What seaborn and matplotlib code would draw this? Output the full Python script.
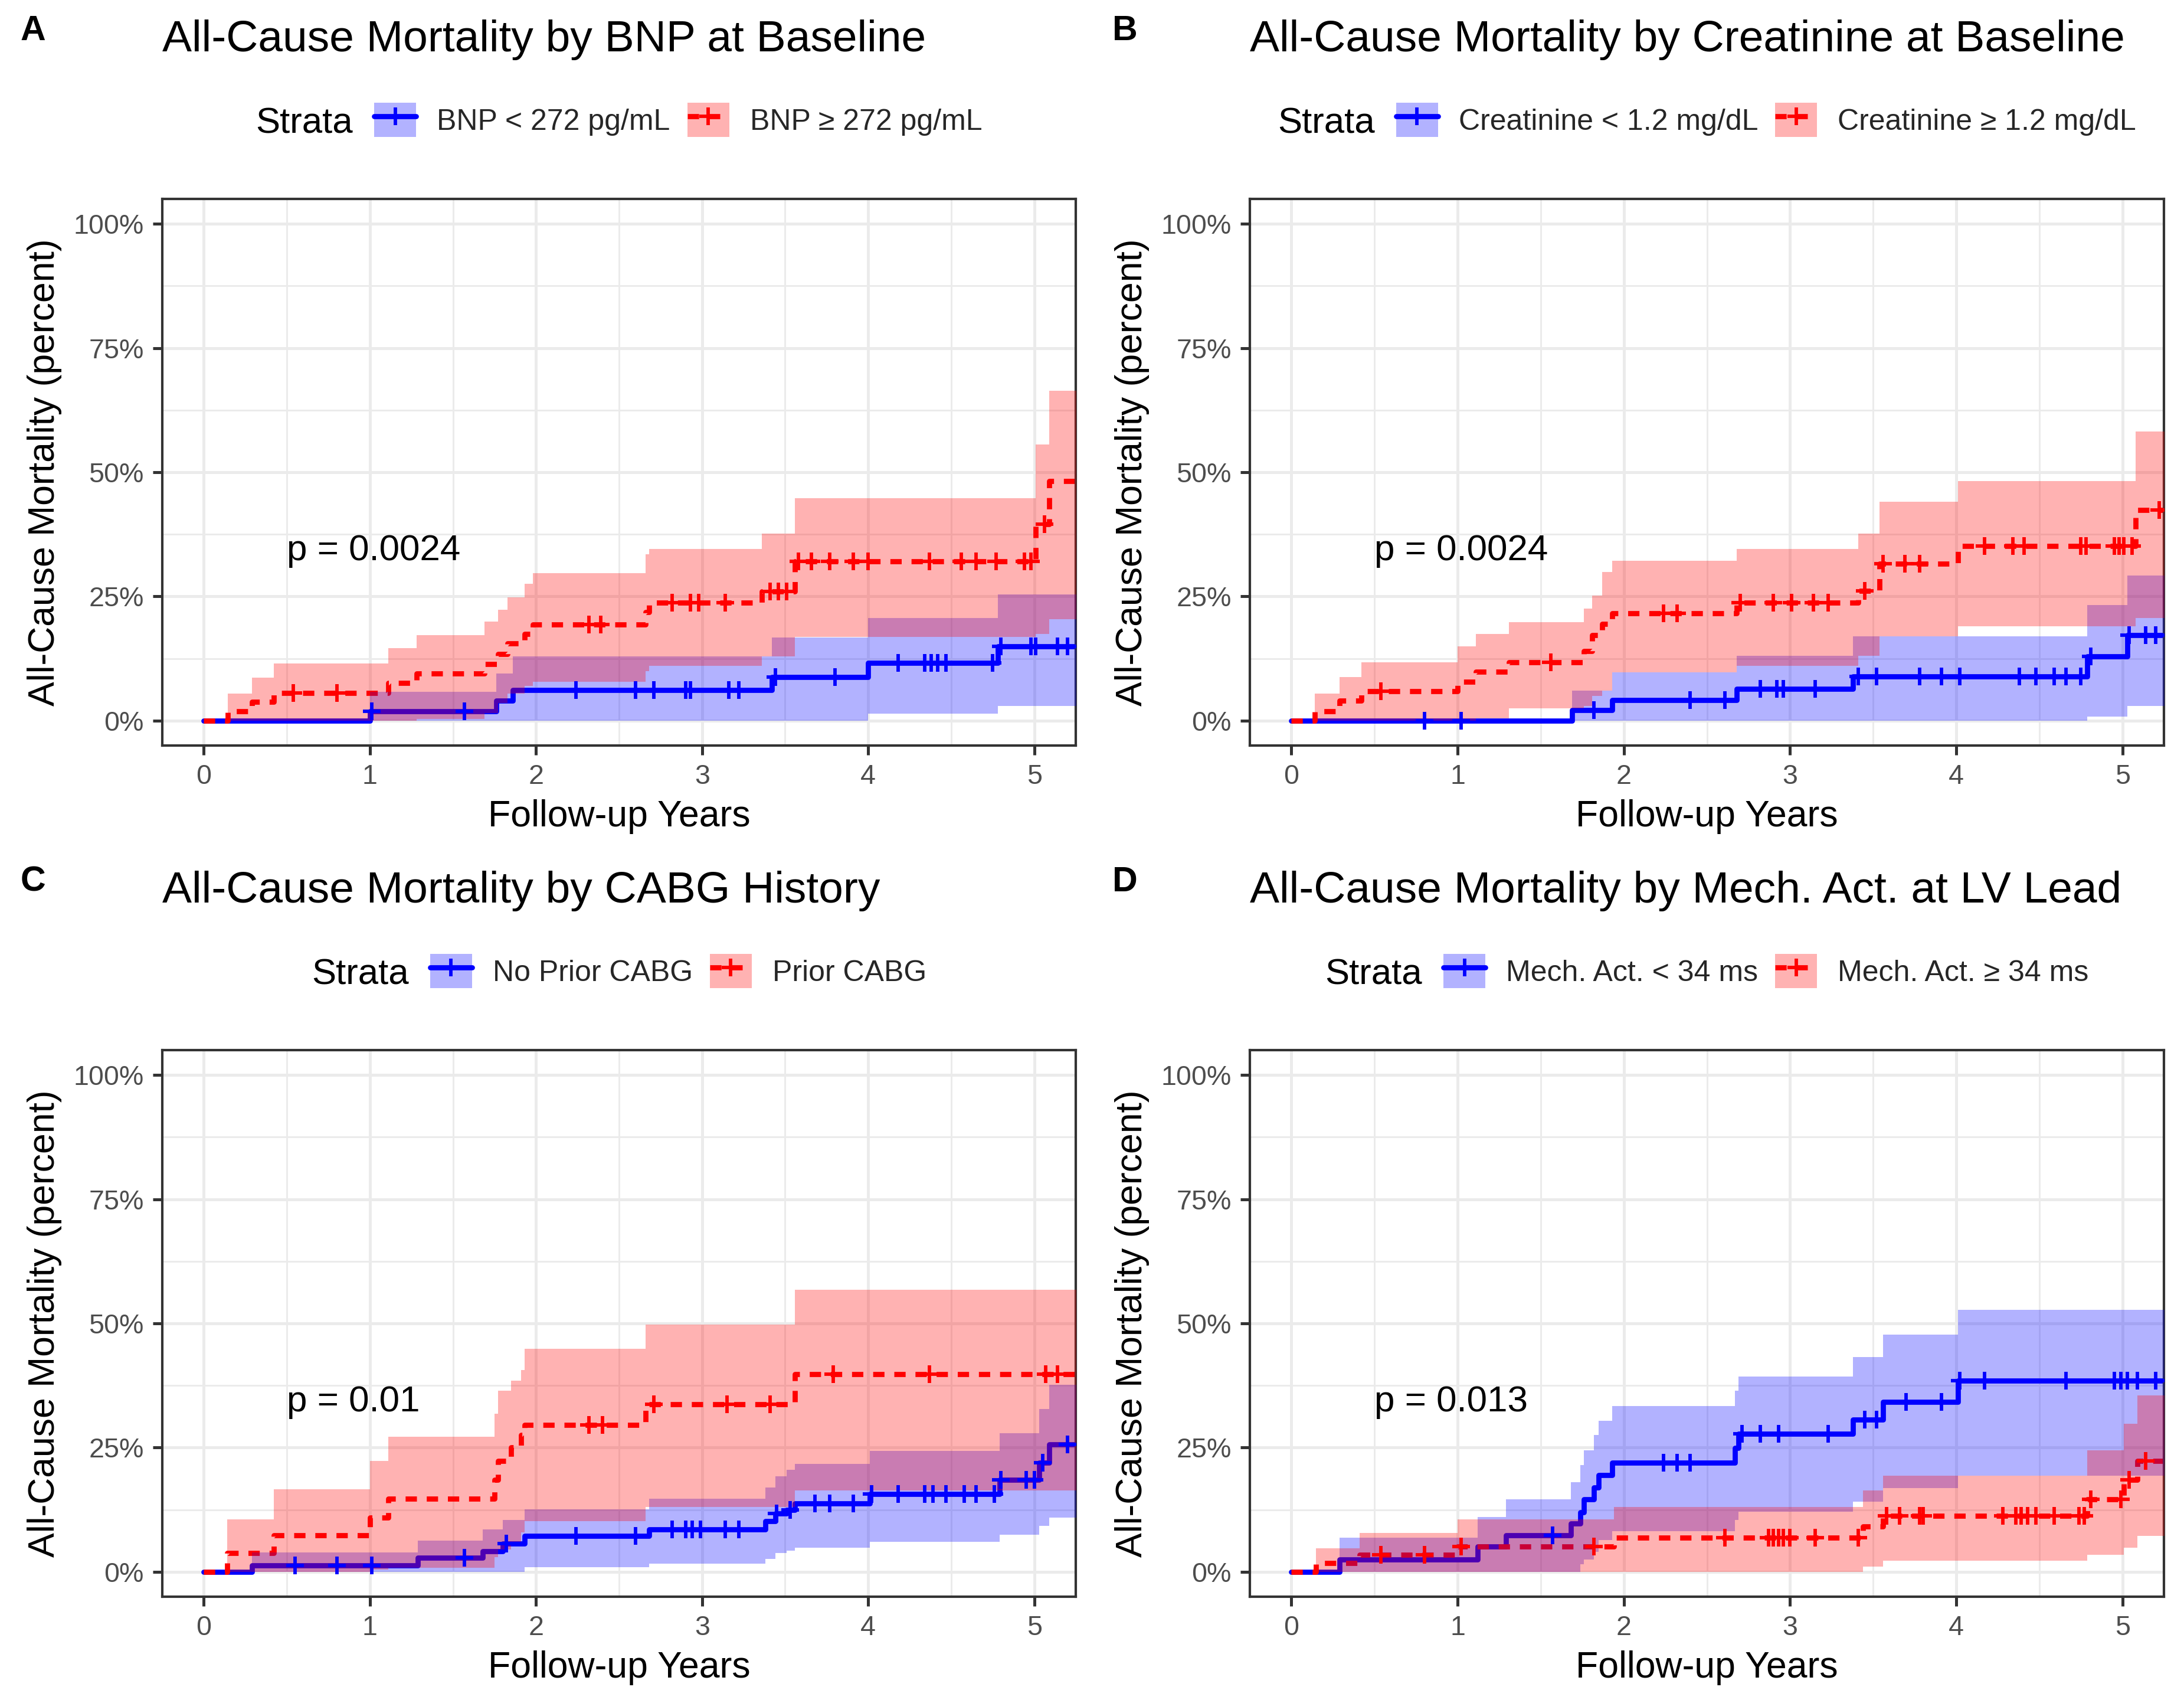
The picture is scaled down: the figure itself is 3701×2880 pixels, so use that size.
import numpy as np
import matplotlib
matplotlib.use("Agg")
import matplotlib.pyplot as plt
import seaborn as sns
from matplotlib.lines import Line2D
from matplotlib.patches import Patch
from matplotlib.ticker import FixedLocator

# ---------------- data (percent, years) ----------------
# A: BNP
bnp_lo_t = [0, 1.00, 1.76, 1.86, 3.42, 4.00, 4.78]
bnp_lo_est = [0, 1.9, 4.0, 6.2, 8.8, 11.6, 15.0]
bnp_lo_lower = [0, 0, 0, 0, 0, 1.4, 2.9]
bnp_lo_upper = [0, 5.8, 9.5, 12.9, 16.7, 20.6, 25.4]
bnp_lo_cens = [1.01, 1.57, 2.24, 2.60, 2.71, 2.90, 2.93, 3.16, 3.22, 3.44, 3.80,
               4.18, 4.34, 4.38, 4.42, 4.47, 4.75, 4.80, 4.98, 5.01, 5.14, 5.20]

bnp_hi_t = [0, 0.145, 0.29, 0.42, 1.11, 1.28, 1.69, 1.77, 1.83, 1.93, 1.98,
            2.66, 2.68, 3.36, 3.56, 5.01, 5.09]
bnp_hi_est = [0, 1.9, 3.8, 5.6, 7.6, 9.5, 11.4, 13.4, 15.5, 17.5, 19.4,
              21.8, 23.7, 26.0, 32.1, 39.5, 48.2]
bnp_hi_lower = [0, 0, 0, 0, 0, 0.3, 1.5, 3.6, 5.5, 7.0, 7.8,
                10.0, 11.0, 12.9, 16.8, 17.5, 20.4]
bnp_hi_upper = [0, 5.4, 8.7, 11.5, 14.6, 17.2, 19.9, 22.3, 24.8, 27.5, 29.7,
                33.5, 34.6, 37.6, 44.8, 55.6, 66.4]
bnp_hi_cens = [0.54, 0.80, 2.32, 2.39, 2.82, 2.93, 2.98, 3.14, 3.41, 3.46, 3.51,
               3.58, 3.66, 3.77, 3.91, 4.00, 4.37, 4.56, 4.65, 4.77, 4.94, 4.98, 5.06]

# B: creatinine
cr_lo_t = [0, 1.69, 1.93, 2.68, 3.38, 4.79, 5.03]
cr_lo_est = [0, 2.1, 4.2, 6.4, 8.9, 12.9, 17.2]
cr_lo_lower = [0, 0, 0, 0, 0, 0.8, 2.9]
cr_lo_upper = [0, 6.1, 9.7, 13.1, 17.0, 23.3, 29.2]
cr_lo_cens = [0.80, 1.02, 1.82, 2.40, 2.61, 2.82, 2.92, 2.96, 3.15, 3.41, 3.52, 3.78,
              3.91, 4.02, 4.38, 4.48, 4.59, 4.66, 4.75, 4.81, 5.04, 5.14, 5.20]

cr_hi_t = [0, 0.14, 0.29, 0.42, 1.00, 1.11, 1.31, 1.76, 1.81, 1.87, 1.93,
           2.68, 3.41, 3.54, 4.01, 5.08]
cr_hi_est = [0, 1.9, 4.0, 5.9, 7.8, 9.8, 11.7, 14.0, 17.2, 19.5, 21.6,
             23.8, 26.1, 31.6, 35.2, 42.4]
cr_hi_lower = [0, 0, 0, 0, 0, 0.5, 2.5, 3.0, 5.0, 6.1, 9.7,
               11.0, 13.1, 17.0, 19.0, 20.6]
cr_hi_upper = [0, 5.5, 8.8, 11.8, 14.9, 17.4, 19.8, 22.5, 25.2, 29.9, 32.2,
               34.6, 37.6, 44.1, 48.2, 58.2]
cr_hi_cens = [0.54, 1.56, 2.24, 2.32, 2.70, 2.90, 3.01, 3.14, 3.23, 3.45, 3.56, 3.69,
              3.78, 4.17, 4.34, 4.41, 4.75, 4.78, 4.95, 4.98, 5.01, 5.06, 5.22]

# C: CABG history
cabg_no_t = [0, 0.29, 1.29, 1.68, 1.80, 1.93, 2.68, 3.38, 3.44, 3.51, 3.56,
             4.01, 4.79, 5.03, 5.09]
cabg_no_est = [0, 1.3, 2.8, 4.2, 5.7, 7.2, 8.5, 10.2, 11.7, 12.5, 13.8,
               15.7, 18.5, 22.0, 25.7]
cabg_no_lower = [0, 0, 0, 0, 0, 0.9, 1.7, 2.6, 3.8, 4.3, 4.9,
                 6.0, 7.5, 9.2, 10.9]
cabg_no_upper = [0, 3.9, 6.3, 8.5, 10.4, 12.6, 14.7, 17.0, 19.2, 20.5, 21.7,
                 24.4, 27.9, 32.8, 37.7]
cabg_no_cens = [0.55, 0.80, 1.01, 1.57, 1.82, 2.24, 2.60, 2.82, 2.90, 2.94, 2.99,
                3.14, 3.22, 3.45, 3.53, 3.68, 3.77, 3.91, 4.02, 4.18, 4.34, 4.39,
                4.47, 4.58, 4.65, 4.76, 4.80, 4.95, 5.00, 5.05, 5.20]

cabg_yes_t = [0, 0.14, 0.42, 1.00, 1.11, 1.75, 1.77, 1.85, 1.91, 1.93, 2.66, 3.56]
cabg_yes_est = [0, 3.8, 7.4, 10.9, 14.7, 18.5, 22.3, 25.0, 27.5, 29.6, 33.7, 39.8]
cabg_yes_lower = [0, 0, 0, 0.5, 0.8, 3.0, 4.5, 6.0, 8.0, 10.2, 13.0, 16.4]
cabg_yes_upper = [0, 10.6, 16.6, 22.3, 27.2, 31.8, 36.4, 38.5, 40.6, 44.9, 49.8, 56.8]
cabg_yes_cens = [2.32, 2.40, 2.71, 3.15, 3.41, 3.79, 4.37, 5.07, 5.14]

# D: mechanical activation at LV lead
mech_lo_t = [0, 0.29, 1.12, 1.29, 1.68, 1.74, 1.76, 1.82, 1.85, 1.93, 2.67, 2.69,
             3.38, 3.56, 4.01]
mech_lo_est = [0, 2.5, 5.1, 7.3, 9.7, 12.0, 14.6, 17.0, 19.5, 22.0, 24.9, 27.8,
               30.6, 34.2, 38.5]
mech_lo_lower = [0, 0, 0, 0, 0, 1.5, 2.5, 4.0, 6.4, 8.2, 10.5, 12.1,
                 14.1, 16.8, 19.4]
mech_lo_upper = [0, 6.9, 11.0, 14.6, 18.1, 21.5, 24.5, 27.6, 30.4, 33.4, 36.5, 39.3,
                 43.2, 47.7, 52.7]
mech_lo_cens = [1.57, 2.24, 2.32, 2.40, 2.71, 2.82, 2.93, 3.23, 3.45, 3.52, 3.70,
                3.91, 4.02, 4.17, 4.66, 4.95, 4.99, 5.03, 5.09, 5.20]

mech_hi_t = [0, 0.147, 0.41, 1.00, 1.94, 3.44, 3.56, 4.79, 5.01, 5.09]
mech_hi_est = [0, 1.8, 3.4, 5.1, 6.9, 9.1, 11.3, 14.6, 18.5, 22.3]
mech_hi_lower = [0, 0, 0, 0, 0, 1.0, 2.3, 3.4, 4.9, 7.2]
mech_hi_upper = [0, 4.8, 7.8, 10.6, 13.1, 16.4, 19.4, 24.5, 29.8, 35.5]
mech_hi_cens = [0.54, 0.80, 1.02, 1.82, 2.61, 2.87, 2.90, 2.93, 2.96, 3.00, 3.15,
                3.41, 3.58, 3.66, 3.78, 3.80, 4.28, 4.36, 4.39, 4.43, 4.48, 4.59,
                4.74, 4.77, 4.81, 4.99, 5.04, 5.14]

panel_letters = ["A", "B", "C", "D"]
panel_titles = ["All-Cause Mortality by BNP at Baseline",
                "All-Cause Mortality by Creatinine at Baseline",
                "All-Cause Mortality by CABG History",
                "All-Cause Mortality by Mech. Act. at LV Lead"]
strata_labels = [("BNP < 272 pg/mL", "BNP \u2265 272 pg/mL"),
                 ("Creatinine < 1.2 mg/dL", "Creatinine \u2265 1.2 mg/dL"),
                 ("No Prior CABG", "Prior CABG"),
                 ("Mech. Act. < 34 ms", "Mech. Act. \u2265 34 ms")]
p_values = ["p = 0.0024", "p = 0.0024", "p = 0.01", "p = 0.013"]
x_ticks = [0, 1, 2, 3, 4, 5]
y_ticks = [0, 25, 50, 75, 100]

# ---------------- style ----------------
BLUE = "#0000FF"
RED = "#FF0000"
LW = 2.1
DASH = (0, (4.6, 4.0))
MS = 7.4
MEW = 1.4

sns.set_theme(style="white")
plt.rcParams["font.family"] = ["Liberation Sans", "DejaVu Sans"]
plt.rcParams["lines.scale_dashes"] = False

W, H = 3701, 2880
fig = plt.figure(figsize=(W / 300, H / 300), dpi=300)
fig.patch.set_facecolor("white")

# panel rectangles in pixels: left, top, right, bottom
rects = [(275, 337, 1823, 1263), (2118, 337, 3667, 1263),
         (275, 1779, 1823, 2705), (2118, 1779, 3667, 2705)]

curves = [
    [(BLUE, "-", bnp_lo_t, bnp_lo_est, bnp_lo_lower, bnp_lo_upper, bnp_lo_cens),
     (RED, DASH, bnp_hi_t, bnp_hi_est, bnp_hi_lower, bnp_hi_upper, bnp_hi_cens)],
    [(BLUE, "-", cr_lo_t, cr_lo_est, cr_lo_lower, cr_lo_upper, cr_lo_cens),
     (RED, DASH, cr_hi_t, cr_hi_est, cr_hi_lower, cr_hi_upper, cr_hi_cens)],
    [(BLUE, "-", cabg_no_t, cabg_no_est, cabg_no_lower, cabg_no_upper, cabg_no_cens),
     (RED, DASH, cabg_yes_t, cabg_yes_est, cabg_yes_lower, cabg_yes_upper, cabg_yes_cens)],
    [(BLUE, "-", mech_lo_t, mech_lo_est, mech_lo_lower, mech_lo_upper, mech_lo_cens),
     (RED, DASH, mech_hi_t, mech_hi_est, mech_hi_lower, mech_hi_upper, mech_hi_cens)],
]


def step_ext(t, v, end=5.4):
    t = np.asarray(t, float)
    v = np.asarray(v, float)
    return np.append(t, end), np.append(v, v[-1])


def draw_km(ax, group):
    # same layer order as ggsurvplot: lines, then ribbons, then censor marks
    for color, ls, t, est, lo, hi, cens in group:
        tx, ex = step_ext(t, est)
        sns.lineplot(x=tx, y=ex, ax=ax, color=color, linewidth=LW, linestyle=ls,
                     drawstyle="steps-post", estimator=None, errorbar=None,
                     sort=False, zorder=2)
    for color, ls, t, est, lo, hi, cens in group:
        tx, lx = step_ext(t, lo)
        _, ux = step_ext(t, hi)
        ax.fill_between(tx, lx, ux, step="post", color=color, alpha=0.3,
                        linewidth=0, zorder=3)
    for color, ls, t, est, lo, hi, cens in group:
        t = np.asarray(t, float)
        idx = np.searchsorted(t, cens, side="right") - 1
        cy = np.asarray(est, float)[idx]
        sns.scatterplot(x=cens, y=cy, ax=ax, marker="+", s=MS ** 2,
                        color=color, edgecolor=color, linewidth=MEW, zorder=4)


fig.canvas.draw()
renderer = fig.canvas.get_renderer()

for i, (l, t, r, b) in enumerate(rects):
    ax = fig.add_axes([l / W, 1 - b / H, (r - l) / W, (b - t) / H])
    draw_km(ax, curves[i])
    ph = b - t
    pw = r - l

    ax.set_xlim(-0.25, 5.25)
    ax.set_ylim(-5, 105)
    ax.xaxis.set_major_locator(FixedLocator(x_ticks))
    ax.yaxis.set_major_locator(FixedLocator(y_ticks))
    ax.set_yticklabels([f"{v}%" for v in y_ticks])
    ax.xaxis.set_minor_locator(FixedLocator([0.5, 1.5, 2.5, 3.5, 4.5]))
    ax.yaxis.set_minor_locator(FixedLocator([12.5, 37.5, 62.5, 87.5]))
    ax.set_axisbelow(True)
    ax.grid(which="major", color="#EBEBEB", linewidth=1.2)
    ax.grid(which="minor", color="#EBEBEB", linewidth=0.7)
    ax.tick_params(which="major", length=3.9, width=1.2, color="#333333",
                   labelcolor="#4D4D4D", labelsize=11.2, pad=3.6,
                   bottom=True, left=True)
    ax.tick_params(which="minor", length=0)
    for sp in ax.spines.values():
        sp.set_color("#333333")
        sp.set_linewidth(1.0)

    ax.set_xlabel("Follow-up Years", fontsize=15, color="black")
    ax.xaxis.set_label_coords(0.5, -137 / ph)
    ax.xaxis.label.set_verticalalignment("baseline")
    ax.set_ylabel("All-Cause Mortality (percent)", fontsize=15, color="black")
    ax.yaxis.set_label_coords(-200 / pw, 0.5)
    ax.yaxis.label.set_verticalalignment("center")

    ax.text(0.5, 32.3, p_values[i], fontsize=14.9, ha="left", va="baseline",
            color="black", zorder=5)

    # title and panel letter
    ax.text(0, 1 + 250 / ph, panel_titles[i], transform=ax.transAxes,
            fontsize=18, ha="left", va="baseline", color="black")
    lx = 35 if l < 1000 else 1885
    fig.text(lx / W, 1 - (t - 269) / H, panel_letters[i], fontsize=14.2,
             fontweight="bold", ha="left", va="baseline", color="black")

    # legend row: "Strata" + two keys, centred over the panel
    handles = []
    for color, ls, *_ in curves[i]:
        box = Patch(facecolor=color, alpha=0.3, edgecolor="none")
        ln = Line2D([], [], color=color, linewidth=LW, linestyle=ls, marker="+",
                    markersize=MS, markeredgewidth=MEW)
        handles.append((box, ln))
    y_leg = 1 - (t - 134) / H
    leg = ax.legend(handles, list(strata_labels[i]), ncol=2, frameon=False,
                    loc="center left", bbox_to_anchor=(0, y_leg),
                    bbox_transform=fig.transFigure, fontsize=12,
                    handlelength=1.42, handleheight=1.42, handletextpad=0.7,
                    columnspacing=0.58, borderpad=0, borderaxespad=0)
    strata = fig.text(0, 1 - (t - 112) / H, "Strata", fontsize=14.8,
                      ha="left", va="baseline", color="black")
    w_leg = leg.get_window_extent(renderer).width
    w_str = strata.get_window_extent(renderer).width
    gap = 36
    start = (l + r) / 2 - (w_str + gap + w_leg) / 2
    strata.set_x(start / W)
    leg.set_bbox_to_anchor(((start + w_str + gap) / W, y_leg), transform=fig.transFigure)

fig.savefig("out.png", dpi=300, facecolor="white")
